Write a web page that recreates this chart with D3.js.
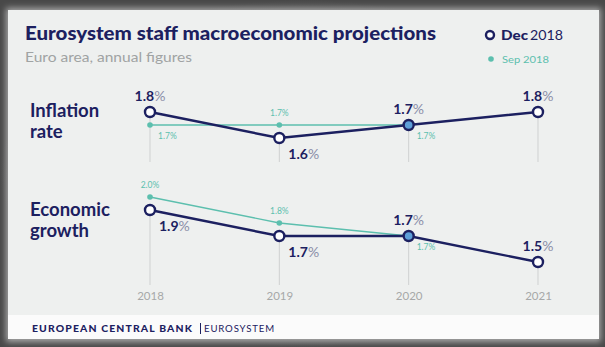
<!DOCTYPE html>
<html>
<head>
<meta charset="utf-8">
<script src="https://cdn.jsdelivr.net/npm/d3@7"></script>
<style>
  body { margin: 0; background: #474747; }
  #viz { width: 605px; height: 347px; }
</style>
</head>
<body>
<div id="viz"></div>
<script>
// data
var years = ["2018", "2019", "2020", "2021"];
var inflationDec = [1.8, 1.6, 1.7, 1.8];
var inflationSep = [1.7, 1.7, 1.7];
var growthDec = [1.9, 1.7, 1.7, 1.5];
var growthSep = [2.0, 1.8, 1.7];

// where each value label goes
var inflationDecPos = ["above", "below", "above", "above"];
var inflationSepPos = ["below", "above", "below"];
var growthDecPos = ["below", "below", "above", "above"];
var growthSepPos = ["above", "above", "below"];

var navy = "#1c2060",
    teal = "#5cbfae",
    grey = "#9a9a9a";

var svg = d3.select("#viz")
  .append("svg")
    .attr("width", 605)
    .attr("height", 347)
    .style("font-family", "Lato, 'Open Sans', sans-serif");

// tv frame + card
var defs = svg.append("defs");
var grad = defs.append("radialGradient").attr("id", "frame");
grad.append("stop").attr("offset", "60%").attr("stop-color", "#747474");
grad.append("stop").attr("offset", "100%").attr("stop-color", "#484848");
defs.append("filter").attr("id", "blur")
  .append("feGaussianBlur").attr("stdDeviation", 3);

svg.append("rect").attr("width", 605).attr("height", 347).attr("fill", "url(#frame)");
svg.append("rect").attr("x", 6).attr("y", 8).attr("width", 595).attr("height", 334)
    .attr("fill", "#aaa").attr("filter", "url(#blur)");
svg.append("rect").attr("x", 8).attr("y", 10).attr("width", 591).attr("height", 305)
    .attr("fill", "#eef0ef");
svg.append("rect").attr("x", 8).attr("y", 315).attr("width", 591).attr("height", 24)
    .attr("fill", "#fbfbfb");

// title
svg.append("text").attr("x", 25).attr("y", 40)
    .attr("fill", navy).style("font-size", "19.5px").style("font-weight", 900)
    .attr("textLength", 411).attr("lengthAdjust", "spacingAndGlyphs")
    .text("Eurosystem staff macroeconomic projections");
svg.append("text").attr("x", 25).attr("y", 62)
    .attr("fill", "#a0a3a3").style("font-size", "13.5px")
    .attr("textLength", 167).attr("lengthAdjust", "spacingAndGlyphs")
    .text("Euro area, annual figures");

// legend
svg.append("circle").attr("cx", 490).attr("cy", 35).attr("r", 4)
    .attr("fill", "#fff").attr("stroke", navy).attr("stroke-width", 2.4);
svg.append("text").attr("x", 501).attr("y", 40)
    .attr("fill", navy).style("font-size", "14px").style("font-weight", 900)
    .attr("textLength", 27).attr("lengthAdjust", "spacingAndGlyphs").text("Dec");
svg.append("text").attr("x", 530).attr("y", 40)
    .attr("fill", navy).style("font-size", "14px")
    .attr("textLength", 33).attr("lengthAdjust", "spacingAndGlyphs").text("2018");
svg.append("circle").attr("cx", 491).attr("cy", 59).attr("r", 2.8).attr("fill", teal);
svg.append("text").attr("x", 502).attr("y", 62.5)
    .attr("fill", teal).style("font-size", "9.5px")
    .attr("textLength", 47).attr("lengthAdjust", "spacingAndGlyphs").text("Sep 2018");

// scales
var x = d3.scalePoint().domain(years).range([150, 538]);
var yInf = d3.scaleLinear().domain([1.5, 1.9]).range([151, 99]);
var yGro = d3.scaleLinear().domain([1.4, 2.1]).range([275, 184]);

// row labels
function rowLabel(lines, y0) {
  svg.append("text").attr("x", 30).attr("y", y0)
      .attr("fill", navy).style("font-size", "18.5px").style("font-weight", 700)
    .selectAll("tspan").data(lines).enter().append("tspan")
      .attr("x", 30).attr("dy", function(d, i) { return i ? 21 : 0; })
      .text(function(d) { return d; });
}
rowLabel(["Inflation", "rate"], 117);
rowLabel(["Economic", "growth"], 216);

// vertical guide lines
function guides(vals, y, bottom) {
  svg.append("g").selectAll("line").data(vals).enter().append("line")
    .attr("x1", function(d, i) { return x(years[i]); })
    .attr("x2", function(d, i) { return x(years[i]); })
    .attr("y1", function(d) { return y(d); })
    .attr("y2", bottom)
    .attr("stroke", "#cfd1d1").attr("stroke-width", 1);
}
guides(inflationDec, yInf, 162);
guides(growthDec, yGro, 285);

// year axis
var xAxis = svg.append("g").attr("transform", "translate(0,292)")
    .call(d3.axisBottom(x).tickSize(0).tickPadding(0));
xAxis.select(".domain").remove();
xAxis.selectAll("text").attr("fill", "#a6a8a8").style("font-size", "11.5px")
    .style("font-family", "Lato, sans-serif");

function series(vals, y, sep) {
  var line = d3.line()
    .x(function(d, i) { return x(years[i]); })
    .y(function(d) { return y(d); });
  svg.append("path").datum(vals).attr("d", line)
    .attr("fill", "none")
    .attr("stroke", sep ? teal : navy)
    .attr("stroke-width", sep ? 1.4 : 2.4);
}

function points(vals, y, sep, pos) {
  var g = svg.append("g");
  g.selectAll("circle").data(vals).enter().append("circle")
    .attr("cx", function(d, i) { return x(years[i]); })
    .attr("cy", function(d) { return y(d); })
    .attr("r", sep ? 2.8 : 5)
    .attr("fill", function(d, i) { return sep ? teal : (i == 2 ? "#5d9fd8" : "#fff"); })
    .attr("stroke", sep ? "none" : navy)
    .attr("stroke-width", 2.4);

  var t = g.selectAll("text").data(vals).enter().append("text")
    .attr("x", function(d, i) {
      return x(years[i]) + (pos[i] == "below" ? (sep ? 8 : 9) : 0);
    })
    .attr("y", function(d, i) {
      if (sep) return y(d) + (pos[i] == "below" ? 14 : -9);
      return y(d) + (pos[i] == "below" ? 21 : -11);
    })
    .attr("text-anchor", function(d, i) { return pos[i] == "below" ? "start" : "middle"; })
    .attr("fill", sep ? teal : navy)
    .style("font-size", sep ? "8.5px" : "14px")
    .style("font-weight", sep ? 400 : 700);
  t.append("tspan").text(function(d) { return d.toFixed(1); });
  t.append("tspan").attr("fill", sep ? teal : "#8a8ea8").style("font-weight", 400)
    .text("%");
}

series(inflationSep, yInf, true);
series(growthSep, yGro, true);
series(inflationDec, yInf, false);
series(growthDec, yGro, false);
points(inflationSep, yInf, true, inflationSepPos);
points(growthSep, yGro, true, growthSepPos);
points(inflationDec, yInf, false, inflationDecPos);
points(growthDec, yGro, false, growthDecPos);

// footer
svg.append("text").attr("x", 32).attr("y", 331.5)
    .attr("fill", navy).style("font-size", "9px").style("font-weight", 900)
    .style("letter-spacing", "1px")
    .attr("textLength", 161).attr("lengthAdjust", "spacingAndGlyphs")
    .text("EUROPEAN CENTRAL BANK");
svg.append("line").attr("x1", 200.5).attr("x2", 200.5).attr("y1", 323).attr("y2", 334)
    .attr("stroke", navy).attr("stroke-width", 1);
svg.append("text").attr("x", 204).attr("y", 331.5)
    .attr("fill", navy).style("font-size", "9px").style("font-weight", 400)
    .style("letter-spacing", "0.8px")
    .attr("textLength", 71).attr("lengthAdjust", "spacingAndGlyphs")
    .text("EUROSYSTEM");
</script>
</body>
</html>
